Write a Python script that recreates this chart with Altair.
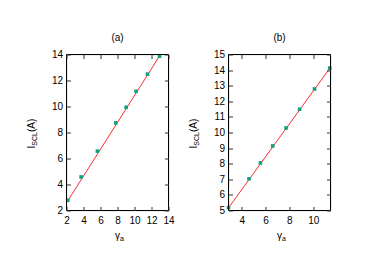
import altair as alt
import pandas as pd

# Panel (a)
a_x = [2.15, 3.72, 5.64, 7.80, 9.02, 10.19, 11.53, 12.94]
a_y = [2.79, 4.58, 6.57, 8.74, 9.94, 11.17, 12.49, 13.87]
a_fit_x = [2.15, 12.94]
a_fit_y = [2.74, 13.88]
a_xdom = [2, 14]
a_ydom = [2, 14]
a_xticks = [2, 4, 6, 8, 10, 12, 14]
a_yticks = [2, 4, 6, 8, 10, 12, 14]

# Panel (b)
b_x = [2.89, 4.61, 5.57, 6.60, 7.72, 8.86, 10.11, 11.39]
b_y = [5.19, 7.03, 8.05, 9.14, 10.29, 11.49, 12.79, 14.13]
b_fit_x = [2.89, 11.42]
b_fit_y = [5.17, 14.15]
b_xdom = [2.89, 11.45]
b_ydom = [5, 15]
b_xticks = [4, 6, 8, 10]
b_yticks = [5, 6, 7, 8, 9, 10, 11, 12, 13, 14, 15]

W, H = 102, 156
FONT = "Liberation Sans"
TL = 4


def panel(xs, ys, fx, fy, xdom, ydom, xticks, yticks, title):
    xs_ = alt.Scale(domain=xdom, nice=False, zero=False)
    ys_ = alt.Scale(domain=ydom, nice=False, zero=False)
    common = dict(ticks=True, tickSize=TL, tickColor="#333", tickWidth=1,
                  domain=False, grid=False, offset=-TL, title=None, zindex=2,
                  labelFontSize=10, labelFont=FONT, labelColor="#000",
                  labelOverlap=False)
    xbot = alt.Axis(orient="bottom", values=xticks, labelPadding=5,
                    labelFlush=False, **common)
    xtop = alt.Axis(orient="top", values=xticks, labels=False, **common)
    yleft = alt.Axis(orient="left", values=yticks, labelPadding=4, **common)
    yright = alt.Axis(orient="right", values=yticks, labels=False, **common)

    one = pd.DataFrame({"f": [0]})

    def edge(x1, x2, y1, y2):
        return alt.Chart(one).mark_rule(color="#000", strokeWidth=1).encode(
            x=alt.value(x1), x2=alt.value(x2), y=alt.value(y1), y2=alt.value(y2))

    frame = [edge(0, W, 0, 0), edge(0, W, H, H), edge(0, 0, 0, H), edge(W, W, 0, H)]

    line = alt.Chart(pd.DataFrame({"x": fx, "y": fy})).mark_line(
        color="#ff2a2a", strokeWidth=1
    ).encode(x=alt.X("x:Q", scale=xs_, axis=xtop),
             y=alt.Y("y:Q", scale=ys_, axis=yright))

    pts = alt.Chart(pd.DataFrame({"x": xs, "y": ys})).mark_square(
        size=13, color="#12a07a", opacity=1, filled=True
    ).encode(x=alt.X("x:Q", scale=xs_, axis=xbot),
             y=alt.Y("y:Q", scale=ys_, axis=yleft))

    def txt(s, x, y, size, angle=0):
        return alt.Chart(pd.DataFrame({"t": [s]})).mark_text(
            font=FONT, fontSize=size, align="left", baseline="alphabetic",
            angle=angle, color="#000"
        ).encode(text="t:N", x=alt.value(x), y=alt.value(y))

    y0 = 94
    t1 = txt("I", -32, y0, 10, 270)
    t2 = txt("SCL", -29.5, y0 - 2.8, 7, 270)
    t3 = txt("(A)", -32, y0 - 2.8 - 13.6, 10, 270)
    g1 = txt("γ", 48.5, 184, 10)
    g2 = txt("a", 53.5, 186, 7)

    return alt.layer(line, pts, *frame, t1, t2, t3, g1, g2).resolve_axis(
        x="independent", y="independent"
    ).properties(
        width=W, height=H,
        title=alt.TitleParams(title, fontSize=10, font=FONT, fontWeight="normal",
                              offset=7, color="#000"),
    )


pa = panel(a_x, a_y, a_fit_x, a_fit_y, a_xdom, a_ydom, a_xticks, a_yticks, "(a)")
pb = panel(b_x, b_y, b_fit_x, b_fit_y, b_xdom, b_ydom, b_xticks, b_yticks, "(b)")

chart = alt.hconcat(pa, pb, spacing=12).properties(
    padding={"left": 17.5, "top": 23.5, "right": 5, "bottom": 5}
).configure_view(stroke=None).configure(background="white")

chart.save("out.html", embed_options={"renderer": "svg", "actions": False})
